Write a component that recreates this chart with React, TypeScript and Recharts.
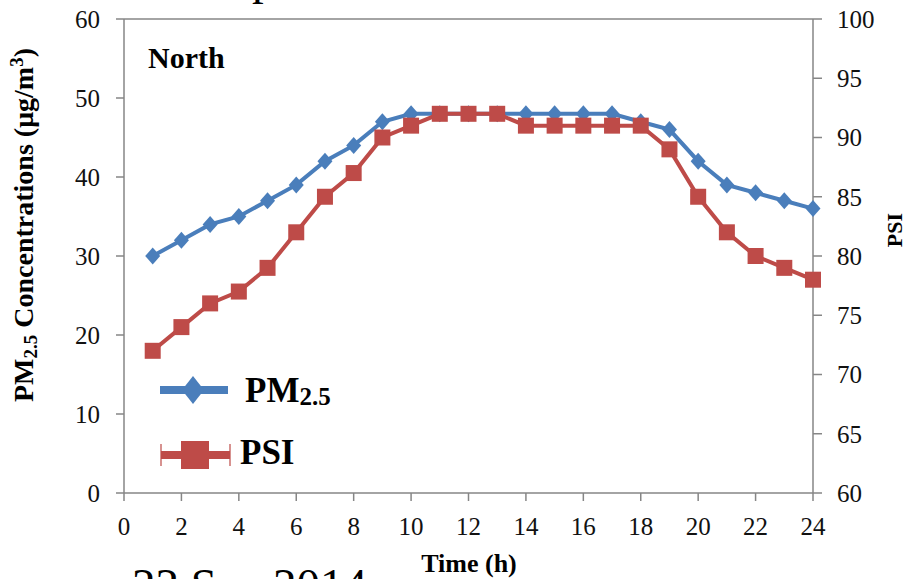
import React from "react";
import {
  LineChart,
  Line,
  XAxis,
  YAxis,
  ReferenceLine,
  Legend,
  Customized,
} from "recharts";

// Hourly readings, North station
const hours = [1, 2, 3, 4, 5, 6, 7, 8, 9, 10, 11, 12, 13, 14, 15, 16, 17, 18, 19, 20, 21, 22, 23, 24];
const pm25 = [30, 32, 34, 35, 37, 39, 42, 44, 47, 48, 48, 48, 48, 48, 48, 48, 48, 47, 46, 42, 39, 38, 37, 36];
const psi = [72, 74, 76, 77, 79, 82, 85, 87, 90, 91, 92, 92, 92, 91, 91, 91, 91, 91, 89, 85, 82, 80, 79, 78];

const xTicks = [0, 2, 4, 6, 8, 10, 12, 14, 16, 18, 20, 22, 24];
const pmTicks = [0, 10, 20, 30, 40, 50, 60];
const psiTicks = [60, 65, 70, 75, 80, 85, 90, 95, 100];

const data = hours.map((h, i) => ({ hour: h, pm25: pm25[i], psi: psi[i] }));

const BLUE = "#4A7EBB";
const RED = "#BE4B48";
const AXIS = "#868686";
const SERIF = "'Liberation Serif', 'Times New Roman', serif";

const tickStyle = { fontFamily: SERIF, fontSize: 25, fill: "#111" };

const Diamond = (props: any) => {
  const { cx, cy, index } = props;
  if (cx == null || cy == null) return <g key={`d-${index}`} />;
  const w = 7.5;
  const h = 8.5;
  return (
    <polygon
      key={`d-${index}`}
      points={`${cx},${cy - h} ${cx + w},${cy} ${cx},${cy + h} ${cx - w},${cy}`}
      fill={BLUE}
    />
  );
};

const Square = (props: any) => {
  const { cx, cy, index } = props;
  if (cx == null || cy == null) return <g key={`s-${index}`} />;
  const s = 8;
  return <rect key={`s-${index}`} x={cx - s} y={cy - s} width={s * 2} height={s * 2} fill={RED} />;
};

const LegendBox = () => (
  <svg width={220} height={120} style={{ display: "block", overflow: "visible" }}>
    <line x1={10} y1={30} x2={78} y2={30} stroke={BLUE} strokeWidth={8} />
    <polygon points="43,16 54,30 43,44 32,30" fill={BLUE} />
    <text x={95} y={42} fontFamily={SERIF} fontWeight="bold" fontSize={35} fill="#000">
      PM<tspan fontSize={25} dy={3}>2.5</tspan>
    </text>
    <line x1={11} y1={95} x2={80} y2={95} stroke={RED} strokeWidth={8} />
    <line x1={11} y1={84} x2={11} y2={106} stroke={RED} strokeWidth={2} opacity={0.6} />
    <line x1={80} y1={84} x2={80} y2={106} stroke={RED} strokeWidth={2} opacity={0.6} />
    <rect x={31} y={81} width={28} height={28} fill={RED} />
    <text x={90} y={104} fontFamily={SERIF} fontWeight="bold" fontSize={35} fill="#000">
      PSI
    </text>
  </svg>
);

const Annotations = () => (
  <g>
    <text x={148} y={68} fontFamily={SERIF} fontWeight="bold" fontSize={30} fill="#000">
      North
    </text>
    <text
      x={33}
      y={225}
      transform="rotate(-90, 33, 225)"
      textAnchor="middle"
      fontFamily={SERIF}
      fontWeight="bold"
      fontSize={28}
      fill="#000"
    >
      PM<tspan fontSize={19} dy={4}>2.5</tspan>
      <tspan dy={-4}> Concentrations (μg/m</tspan>
      <tspan fontSize={19} dy={-10}>3</tspan>
      <tspan dy={10}>)</tspan>
    </text>
    <text
      x={902}
      y={230}
      transform="rotate(-90, 902, 230)"
      textAnchor="middle"
      fontFamily={SERIF}
      fontWeight="bold"
      fontSize={22}
      fill="#000"
    >
      PSI
    </text>
    <text x={469} y={572} textAnchor="middle" fontFamily={SERIF} fontWeight="bold" fontSize={26} fill="#000">
      Time (h)
    </text>
    <text x={132} y={601} fontFamily={SERIF} fontSize={47} fill="#000">
      22 Sep 2014
    </text>
    <text x={252} y={-6} fontFamily={SERIF} fontSize={47} fill="#000">
      p
    </text>
  </g>
);

export default function App() {
  return (
    <div style={{ position: "absolute", left: 0, top: 0, background: "#fff" }}>
      <LineChart
        width={912}
        height={579}
        data={data}
        margin={{ top: 19, right: 0, bottom: 0, left: 0 }}
      >
        <XAxis
          dataKey="hour"
          type="number"
          domain={[0, 24]}
          ticks={xTicks}
          interval={0}
          height={86}
          tickSize={8}
          tickMargin={16}
          stroke={AXIS}
          strokeWidth={1.5}
          tick={tickStyle}
          tickLine={{ stroke: AXIS, strokeWidth: 1.5 }}
        />
        <YAxis
          yAxisId="left"
          domain={[0, 60]}
          ticks={pmTicks}
          interval={0}
          width={124}
          tickSize={8}
          tickMargin={16}
          stroke={AXIS}
          strokeWidth={1.5}
          tick={tickStyle}
          tickLine={{ stroke: AXIS, strokeWidth: 1.5 }}
        />
        <YAxis
          yAxisId="right"
          orientation="right"
          domain={[60, 100]}
          ticks={psiTicks}
          interval={0}
          width={99}
          tickSize={9}
          tickMargin={15}
          stroke={AXIS}
          strokeWidth={1.5}
          tick={{ ...tickStyle, textAnchor: "start" }}
          tickLine={{ stroke: AXIS, strokeWidth: 1.5 }}
        />
        <ReferenceLine yAxisId="left" y={60} stroke={AXIS} strokeWidth={1.5} />
        <Line
          yAxisId="left"
          dataKey="pm25"
          stroke={BLUE}
          strokeWidth={4}
          dot={Diamond}
          activeDot={false}
          isAnimationActive={false}
        />
        <Line
          yAxisId="right"
          dataKey="psi"
          stroke={RED}
          strokeWidth={4}
          dot={Square}
          activeDot={false}
          isAnimationActive={false}
        />
        <Legend
          layout="horizontal"
          verticalAlign="middle"
          align="center"
          width={220}
          height={120}
          wrapperStyle={{ left: 150, top: 360 }}
          content={LegendBox}
        />
        <Customized component={Annotations} />
      </LineChart>
    </div>
  );
}
